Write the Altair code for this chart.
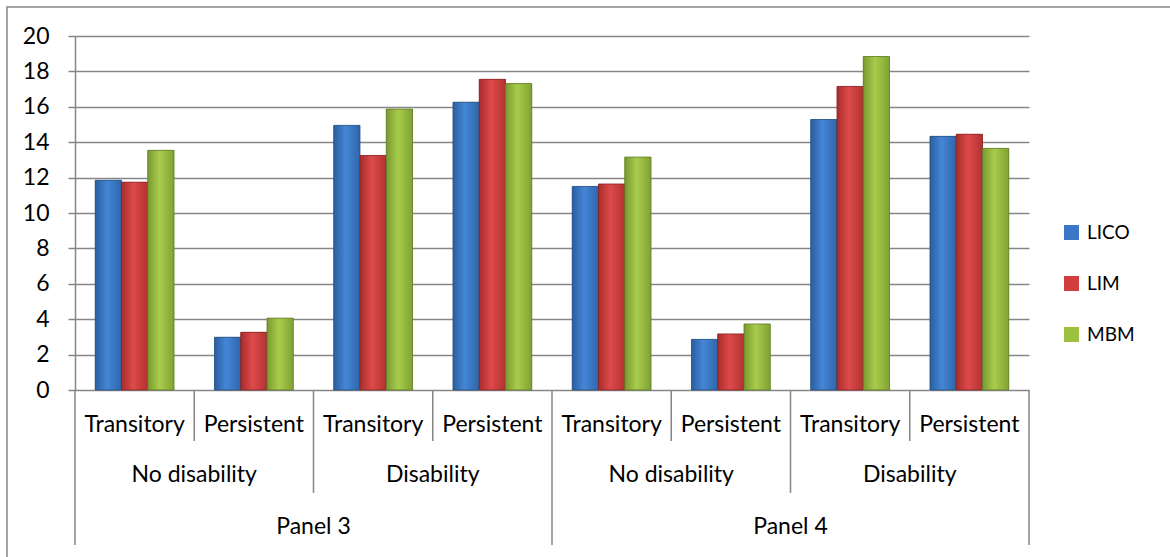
import altair as alt
import pandas as pd

panels = ["Panel 3", "Panel 4"]
groups = ["No disability", "Disability"]
subs = ["Transitory", "Persistent"]
series = ["LICO", "LIM", "MBM"]

lico = [11.85, 2.98, 14.95, 16.26, 11.50, 2.86, 15.28, 14.33]
lim = [11.74, 3.26, 13.25, 17.55, 11.64, 3.17, 17.15, 14.45]
mbm = [13.54, 4.06, 15.87, 17.31, 13.16, 3.73, 18.84, 13.65]

y_ticks = [0, 2, 4, 6, 8, 10, 12, 14, 16, 18, 20]

colors = ["#3B77C6", "#D23E3E", "#9CC040"]
grad_stops = [
    ["#2B5E9E", "#4486D6", "#2F66AA"],
    ["#A82C2C", "#DE4A4A", "#B23232"],
    ["#7A9A30", "#A8CC4C", "#80A234"],
]
edge = ["#24507F", "#862222", "#5F7A24"]

# category keys (8 leaf categories)
cat_keys, cat_sub = [], []
for p in panels:
    for g in groups:
        for s in subs:
            cat_keys.append(f"{p}|{g}|{s}")
            cat_sub.append(s)

vals = {"LICO": lico, "LIM": lim, "MBM": mbm}
rows = []
for s in series:
    for k, v in zip(cat_keys, vals[s]):
        rows.append({"cat": k, "series": s, "value": v})
df = pd.DataFrame(rows)

FONT = "Lato"
GRAY = "#868686"
FS = 23

xscale = alt.Scale(domain=cat_keys, paddingInner=0, paddingOuter=0)
xoscale = alt.Scale(domain=series, paddingInner=0, paddingOuter=0.77)
yscale = alt.Scale(domain=[0, 20], nice=False)
yaxis = alt.Axis(values=y_ticks, title=None, labelOverlap=False,
                 labelFontSize=FS, labelFont=FONT, labelColor="black",
                 tickColor=GRAY, tickSize=7, tickWidth=1.5,
                 domainColor=GRAY, domainWidth=1.5,
                 gridColor=GRAY, gridWidth=1.5, labelPadding=19)

base_bars = alt.Chart(df).mark_bar().encode(
    x=alt.X("cat:N", scale=xscale, axis=None, title=None),
    xOffset=alt.XOffset("series:N", scale=xoscale),
    y=alt.Y("value:Q", scale=yscale, axis=yaxis),
    color=alt.Color("series:N", sort=series,
                    scale=alt.Scale(domain=series, range=colors),
                    legend=alt.Legend(title=None, orient="none", legendX=987, legendY=187,
                                      symbolType="square", symbolSize=225,
                                      symbolStrokeWidth=0,
                                      labelFontSize=19, labelFont=FONT,
                                      labelColor="black", rowPadding=31,
                                      labelOffset=6)),
)

grad_layers = []
for s, st, ed in zip(series, grad_stops, edge):
    grad = alt.LinearGradient(
        gradient="linear", x1=0, x2=1, y1=0, y2=0,
        stops=[alt.GradientStop(offset=0, color=st[0]),
               alt.GradientStop(offset=0.45, color=st[1]),
               alt.GradientStop(offset=1, color=st[2])])
    grad_layers.append(
        alt.Chart(df).transform_filter(alt.datum.series == s)
        .mark_bar(color=grad, stroke=ed, strokeWidth=0.8)
        .encode(x=alt.X("cat:N", scale=xscale, axis=None),
                xOffset=alt.XOffset("series:N", scale=xoscale),
                y=alt.Y("value:Q", scale=yscale, axis=yaxis))
    )

# category hierarchy labels
sub_df = pd.DataFrame({"cat": cat_keys, "label": cat_sub})
grp_df = pd.DataFrame({
    "cat": [cat_keys[2 * i + 1] for i in range(4)],
    "label": [g for p in panels for g in groups],
})
pan_df = pd.DataFrame({
    "cat": [cat_keys[4 * i + 2] for i in range(2)],
    "label": panels,
})

def txt(d, ypix, band):
    return alt.Chart(d).mark_text(fontSize=FS, font=FONT, color="black",
                                  baseline="middle", align="center").encode(
        x=alt.X("cat:N", scale=xscale, axis=None, bandPosition=band),
        y=alt.value(ypix),
        text="label:N")

sub_text = txt(sub_df, 389, 0.5)
grp_text = txt(grp_df, 439, 0)
pan_text = txt(pan_df, 491, 0)

# dividers
div_short = pd.DataFrame({"cat": [cat_keys[i] for i in range(8) if i % 2 == 1]})
div_med = pd.DataFrame({"cat": [cat_keys[i] for i in range(8) if i % 4 == 2]})
div_long = pd.DataFrame({"cat": [cat_keys[0], cat_keys[4]]})
div_end = pd.DataFrame({"cat": [cat_keys[-1]]})

def rule(d, y2, band=0):
    return alt.Chart(d).mark_rule(color=GRAY, strokeWidth=1.5).encode(
        x=alt.X("cat:N", scale=xscale, axis=None, bandPosition=band),
        y=alt.value(354), y2=alt.value(y2))

frame = alt.Chart(pd.DataFrame({"a": [0]})).mark_rect(
    fill=None, stroke=GRAY, strokeWidth=1.5).encode(
    x=alt.value(-68), x2=alt.value(1200), y=alt.value(-29), y2=alt.value(620))

chart = alt.layer(
    frame, base_bars, *grad_layers,
    rule(div_short, 405), rule(div_med, 457), rule(div_long, 509), rule(div_end, 509, 1),
    sub_text, grp_text, pan_text,
).properties(
    width=954, height=354,
    autosize=alt.AutoSizeParams(type="none"),
    padding={"left": 75, "top": 36, "right": 141, "bottom": 167},
).configure(background="white", view=alt.ViewConfig(stroke=None))

chart.save("out.html", embed_options={"renderer": "svg", "actions": False})
